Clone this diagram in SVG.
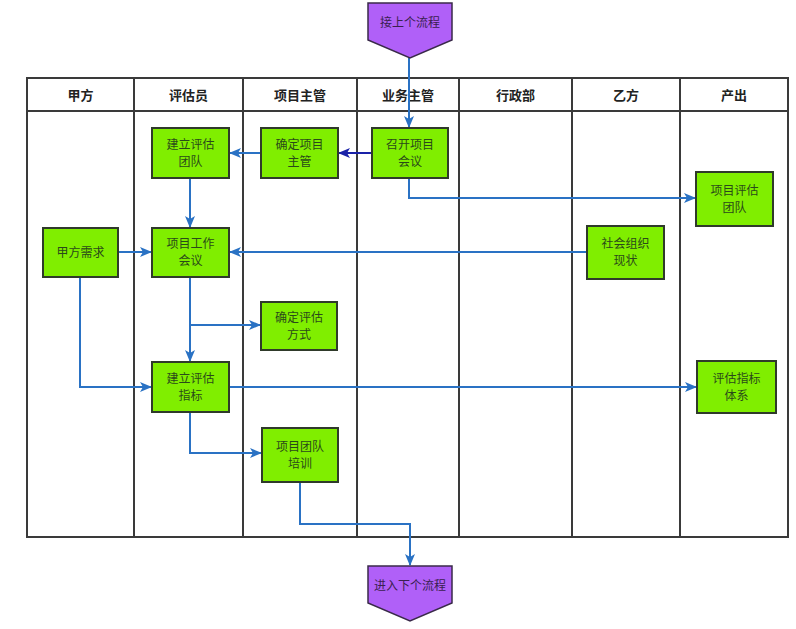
<svg xmlns="http://www.w3.org/2000/svg" width="796" height="629" viewBox="0 0 796 629">
<defs>
<style>
.lane{fill:none;stroke:#3a3a3a;stroke-width:2}
.hdr{font-family:"Noto Sans CJK SC","Liberation Sans",sans-serif;font-size:13px;font-weight:bold;fill:#222;text-anchor:middle}
.box{fill:#80ee00;stroke:#2f3a2a;stroke-width:2}
.lbl{font-family:"Noto Sans CJK SC","Liberation Sans",sans-serif;font-size:12px;fill:#2a4a1a;text-anchor:middle}
.term{fill:#b060f8;stroke:#3a2a4a;stroke-width:1.5}
.tlbl{font-family:"Noto Sans CJK SC","Liberation Sans",sans-serif;font-size:12px;fill:#3a2050;text-anchor:middle}
.c{fill:none;stroke:#2a72c4;stroke-width:2}
.cd{fill:none;stroke:#1a22a8;stroke-width:2}
</style>
<marker id="ab" viewBox="0 0 12 10" refX="11" refY="5" markerWidth="12" markerHeight="10" markerUnits="userSpaceOnUse" orient="auto">
<path d="M0,0 L12,5 L0,10 L3,5 Z" fill="#2a72c4"/>
</marker>
<marker id="ad" viewBox="0 0 12 10" refX="11" refY="5" markerWidth="12" markerHeight="10" markerUnits="userSpaceOnUse" orient="auto">
<path d="M0,0 L12,5 L0,10 L3,5 Z" fill="#1a22a8"/>
</marker>
</defs>
<rect width="796" height="629" fill="#ffffff"/>
<g id="table">
<rect class="lane" x="27" y="78" width="761" height="459"/>
<line class="lane" x1="27" y1="111" x2="788" y2="111"/>
<line class="lane" x1="134" y1="78" x2="134" y2="537"/>
<line class="lane" x1="243" y1="78" x2="243" y2="537"/>
<line class="lane" x1="357" y1="78" x2="357" y2="537"/>
<line class="lane" x1="459" y1="78" x2="459" y2="537"/>
<line class="lane" x1="572" y1="78" x2="572" y2="537"/>
<line class="lane" x1="680" y1="78" x2="680" y2="537"/>
<text class="hdr" x="80.5" y="100">甲方</text>
<text class="hdr" x="188.5" y="100">评估员</text>
<text class="hdr" x="300" y="100">项目主管</text>
<text class="hdr" x="408" y="100">业务主管</text>
<text class="hdr" x="515.5" y="100">行政部</text>
<text class="hdr" x="626" y="100">乙方</text>
<text class="hdr" x="734" y="100">产出</text>
</g>
<g id="connectors">
<path class="c" d="M409,58 V127" marker-end="url(#ab)"/>
<path class="cd" d="M372,153 H339" marker-end="url(#ad)"/>
<path class="c" d="M261,153 H230" marker-end="url(#ab)"/>
<path class="c" d="M409,178 V198 H695" marker-end="url(#ab)"/>
<path class="c" d="M190,178 V227" marker-end="url(#ab)"/>
<path class="c" d="M118,252 H151" marker-end="url(#ab)"/>
<path class="c" d="M587,252 H230" marker-end="url(#ab)"/>
<path class="c" d="M190,277 V361" marker-end="url(#ab)"/>
<path class="c" d="M190,325 H260" marker-end="url(#ab)"/>
<path class="c" d="M80,277 V387 H151" marker-end="url(#ab)"/>
<path class="c" d="M229,387 H696" marker-end="url(#ab)"/>
<path class="c" d="M190,412 V453 H261" marker-end="url(#ab)"/>
<path class="c" d="M300,482 V524 H410 V565" marker-end="url(#ab)"/>
</g>
<g id="start">
<path class="term" d="M368,3 H452 V40 L410,58 L368,40 Z"/>
<text class="tlbl" x="410" y="27">接上个流程</text>
</g>
<g id="end">
<path class="term" d="M368,566 H452 V603 L410,621 L368,603 Z"/>
<text class="tlbl" x="410" y="590">进入下个流程</text>
</g>
<g id="n1"><rect class="box" x="152" y="128" width="77" height="50"/><text class="lbl" x="190.5" y="149">建立评估</text><text class="lbl" x="190.5" y="166">团队</text></g>
<g id="n2"><rect class="box" x="261" y="128" width="77" height="50"/><text class="lbl" x="299.5" y="149">确定项目</text><text class="lbl" x="299.5" y="166">主管</text></g>
<g id="n3"><rect class="box" x="372" y="128" width="76" height="50"/><text class="lbl" x="410" y="149">召开项目</text><text class="lbl" x="410" y="166">会议</text></g>
<g id="n4"><rect class="box" x="696" y="172" width="77" height="54"/><text class="lbl" x="734.5" y="195">项目评估</text><text class="lbl" x="734.5" y="212">团队</text></g>
<g id="n5"><rect class="box" x="43" y="228" width="75" height="49"/><text class="lbl" x="80.5" y="257">甲方需求</text></g>
<g id="n6"><rect class="box" x="152" y="228" width="77" height="49"/><text class="lbl" x="190.5" y="248">项目工作</text><text class="lbl" x="190.5" y="265">会议</text></g>
<g id="n7"><rect class="box" x="587" y="226" width="77" height="53"/><text class="lbl" x="625.5" y="248">社会组织</text><text class="lbl" x="625.5" y="265">现状</text></g>
<g id="n8"><rect class="box" x="261" y="302" width="76" height="48"/><text class="lbl" x="299" y="322">确定评估</text><text class="lbl" x="299" y="339">方式</text></g>
<g id="n9"><rect class="box" x="152" y="362" width="77" height="50"/><text class="lbl" x="190.5" y="383">建立评估</text><text class="lbl" x="190.5" y="400">指标</text></g>
<g id="n10"><rect class="box" x="697" y="361" width="79" height="52"/><text class="lbl" x="736.5" y="383">评估指标</text><text class="lbl" x="736.5" y="400">体系</text></g>
<g id="n11"><rect class="box" x="262" y="428" width="76" height="54"/><text class="lbl" x="300" y="451">项目团队</text><text class="lbl" x="300" y="468">培训</text></g>
</svg>
